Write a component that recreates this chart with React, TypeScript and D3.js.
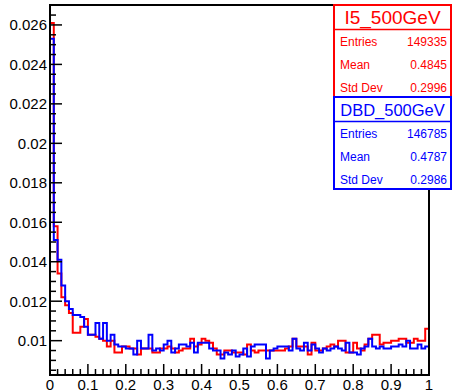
import React, { useEffect, useRef } from 'react';
import * as d3 from 'd3';

// bin contents (normalised), 100 bins from 0 to 1
const i5Values = [
  0.0261, 0.0158, 0.0134, 0.0122, 0.0118, 0.0114, 0.0104, 0.0104, 0.0107, 0.0111,
  0.0103, 0.0103, 0.0102, 0.0101, 0.0100, 0.0097, 0.0100, 0.0094, 0.0094, 0.0097,
  0.0097, 0.0096, 0.0096, 0.0093, 0.0096, 0.0096, 0.0096, 0.0094, 0.0094, 0.0096,
  0.0096, 0.0097, 0.0096, 0.0094, 0.0095, 0.0096, 0.0096, 0.0101, 0.0097, 0.0098,
  0.0101, 0.0100, 0.0099, 0.0096, 0.0093, 0.0093, 0.0095, 0.0095, 0.0094, 0.0094,
  0.0094, 0.0093, 0.0098, 0.0095, 0.0094, 0.0095, 0.0095, 0.0095, 0.0095, 0.0095,
  0.0095, 0.0095, 0.0096, 0.0097, 0.0101, 0.0097, 0.0097, 0.0097, 0.0093, 0.0099,
  0.0095, 0.0095, 0.0096, 0.0097, 0.0098, 0.0097, 0.0100, 0.0100, 0.0094, 0.0094,
  0.0099, 0.0096, 0.0095, 0.0098, 0.0101, 0.0103, 0.0103, 0.0098, 0.0099, 0.0099,
  0.0100, 0.0100, 0.0101, 0.0101, 0.0099, 0.0099, 0.0101, 0.0100, 0.0100, 0.0106,
];

const dbdValues = [
  0.0253, 0.0151, 0.0141, 0.0128, 0.0120, 0.0116, 0.0113, 0.0113, 0.0112, 0.0107,
  0.0103, 0.0103, 0.0109, 0.0101, 0.0109, 0.0100, 0.0103, 0.0098, 0.0097, 0.0097,
  0.0096, 0.0096, 0.0093, 0.0100, 0.0096, 0.0096, 0.0103, 0.0095, 0.0096, 0.0095,
  0.0098, 0.0100, 0.0094, 0.0096, 0.0098, 0.0098, 0.0097, 0.0099, 0.0094, 0.0099,
  0.0099, 0.0099, 0.0096, 0.0095, 0.0095, 0.0091, 0.0094, 0.0093, 0.0095, 0.0092,
  0.0093, 0.0096, 0.0092, 0.0097, 0.0098, 0.0098, 0.0098, 0.0091, 0.0095, 0.0096,
  0.0097, 0.0097, 0.0097, 0.0095, 0.0101, 0.0096, 0.0095, 0.0099, 0.0095, 0.0098,
  0.0096, 0.0094, 0.0096, 0.0095, 0.0096, 0.0097, 0.0096, 0.0095, 0.0099, 0.0094,
  0.0094, 0.0093, 0.0096, 0.0097, 0.0101, 0.0097, 0.0096, 0.0097, 0.0096, 0.0096,
  0.0097, 0.0097, 0.0098, 0.0097, 0.0100, 0.0096, 0.0096, 0.0098, 0.0096, 0.0097,
];

const xTicks = [0, 0.1, 0.2, 0.3, 0.4, 0.5, 0.6, 0.7, 0.8, 0.9, 1];
const yTicks = [0.01, 0.012, 0.014, 0.016, 0.018, 0.02, 0.022, 0.024, 0.026];

const statNames = ['I5_500GeV', 'DBD_500GeV'];
const statLabels = ['Entries', 'Mean', 'Std Dev'];
const i5Stats = ['149335', '0.4845', '0.2996'];
const dbdStats = ['146785', '0.4787', '0.2986'];

export default function App() {
  const svgRef = useRef<SVGSVGElement>(null);

  useEffect(() => {
    if (!svgRef.current) return;

    const svg = d3.select(svgRef.current);
    svg.selectAll('*').remove();

    const width = 452;
    const height = 392;
    const margin = { top: 5, right: 23, bottom: 17, left: 50 };
    const font = '"Liberation Sans", Arial, Helvetica, sans-serif';

    svg.attr('width', width).attr('height', height);

    const x = d3.scaleLinear().domain([0, 1]).range([margin.left, width - margin.right]);
    const y = d3.scaleLinear().domain([0.00826, 0.02701]).range([height - margin.bottom, margin.top]);
    const yMin = y.domain()[0];
    const nBins = i5Values.length;

    // histogram outline
    const histPoints = (vals: number[]) => {
      const pts: [number, number][] = [[0, yMin]];
      vals.forEach((v, i) => {
        pts.push([i / nBins, v]);
        pts.push([(i + 1) / nBins, v]);
      });
      pts.push([1, yMin]);
      return pts;
    };

    const line = d3.line<[number, number]>()
      .x(d => x(d[0]))
      .y(d => y(d[1]));

    svg.append('path')
      .datum(histPoints(i5Values))
      .attr('fill', 'none')
      .attr('stroke', '#ff0000')
      .attr('stroke-width', 2)
      .attr('d', line);

    svg.append('path')
      .datum(histPoints(dbdValues))
      .attr('fill', 'none')
      .attr('stroke', '#0000ff')
      .attr('stroke-width', 2)
      .attr('d', line);

    // frame
    svg.append('rect')
      .attr('x', x(0))
      .attr('y', y(y.domain()[1]))
      .attr('width', x(1) - x(0))
      .attr('height', y(yMin) - y(y.domain()[1]))
      .attr('fill', 'none')
      .attr('stroke', '#000')
      .attr('stroke-width', 2);

    // x ticks (pointing up, inside)
    const xMinor = d3.range(0, 51).map(i => i * 0.02);
    svg.append('g')
      .selectAll('line')
      .data(xMinor)
      .enter()
      .append('line')
      .attr('x1', d => x(d))
      .attr('x2', d => x(d))
      .attr('y1', y(yMin))
      .attr('y2', (d, i) => y(yMin) - (i % 5 === 0 ? 11 : 6))
      .attr('stroke', '#000')
      .attr('stroke-width', 1.5);

    svg.append('g')
      .selectAll('text')
      .data(xTicks)
      .enter()
      .append('text')
      .attr('x', d => x(d))
      .attr('y', 390)
      .attr('text-anchor', 'middle')
      .attr('font-family', font)
      .attr('font-size', 15)
      .text(d => String(d));

    // y ticks (pointing right, inside)
    const yMinor = d3.range(0, 40).map(i => 0.0085 + i * 0.0005).filter(v => v <= 0.027);
    svg.append('g')
      .selectAll('line')
      .data(yMinor)
      .enter()
      .append('line')
      .attr('x1', x(0))
      .attr('x2', d => x(0) + (Math.round(d / 0.0005) % 4 === 0 ? 12 : 6))
      .attr('y1', d => y(d))
      .attr('y2', d => y(d))
      .attr('stroke', '#000')
      .attr('stroke-width', 1.5);

    svg.append('g')
      .selectAll('text')
      .data(yTicks)
      .enter()
      .append('text')
      .attr('x', 47)
      .attr('y', d => y(d) + 5.5)
      .attr('text-anchor', 'end')
      .attr('font-family', font)
      .attr('font-size', 15)
      .text(d => String(+d.toFixed(3)));

    // stat boxes
    const boxes = [
      { name: statNames[0], vals: i5Stats, color: '#ff0000', top: 5, titleSize: 19 },
      { name: statNames[1], vals: dbdStats, color: '#0000ff', top: 97, titleSize: 16.5 },
    ];
    const boxLeft = 334;
    const boxRight = 451;
    boxes.forEach(b => {
      const g = svg.append('g');
      g.append('rect')
        .attr('x', boxLeft)
        .attr('y', b.top)
        .attr('width', boxRight - boxLeft)
        .attr('height', 92)
        .attr('fill', '#fff')
        .attr('stroke', b.color)
        .attr('stroke-width', 2);
      g.append('line')
        .attr('x1', boxLeft)
        .attr('x2', boxRight)
        .attr('y1', b.top + 24.5)
        .attr('y2', b.top + 24.5)
        .attr('stroke', b.color)
        .attr('stroke-width', 1.5);
      g.append('text')
        .attr('x', (boxLeft + boxRight) / 2)
        .attr('y', b.top + 18.5)
        .attr('text-anchor', 'middle')
        .attr('font-family', font)
        .attr('font-size', b.titleSize)
        .attr('fill', b.color)
        .text(b.name);
      statLabels.forEach((lab, i) => {
        const yy = b.top + 41 + i * 22.8;
        g.append('text')
          .attr('x', 340)
          .attr('y', yy)
          .attr('font-family', font)
          .attr('font-size', 12)
          .attr('fill', b.color)
          .text(lab);
        g.append('text')
          .attr('x', 447)
          .attr('y', yy)
          .attr('text-anchor', 'end')
          .attr('font-family', font)
          .attr('font-size', 12)
          .attr('fill', b.color)
          .text(b.vals[i]);
      });
    });
  }, []);

  return (
    <svg
      ref={svgRef}
      width={452}
      height={392}
      style={{ position: 'absolute', left: 0, top: 0, background: '#fff' }}
    />
  );
}
